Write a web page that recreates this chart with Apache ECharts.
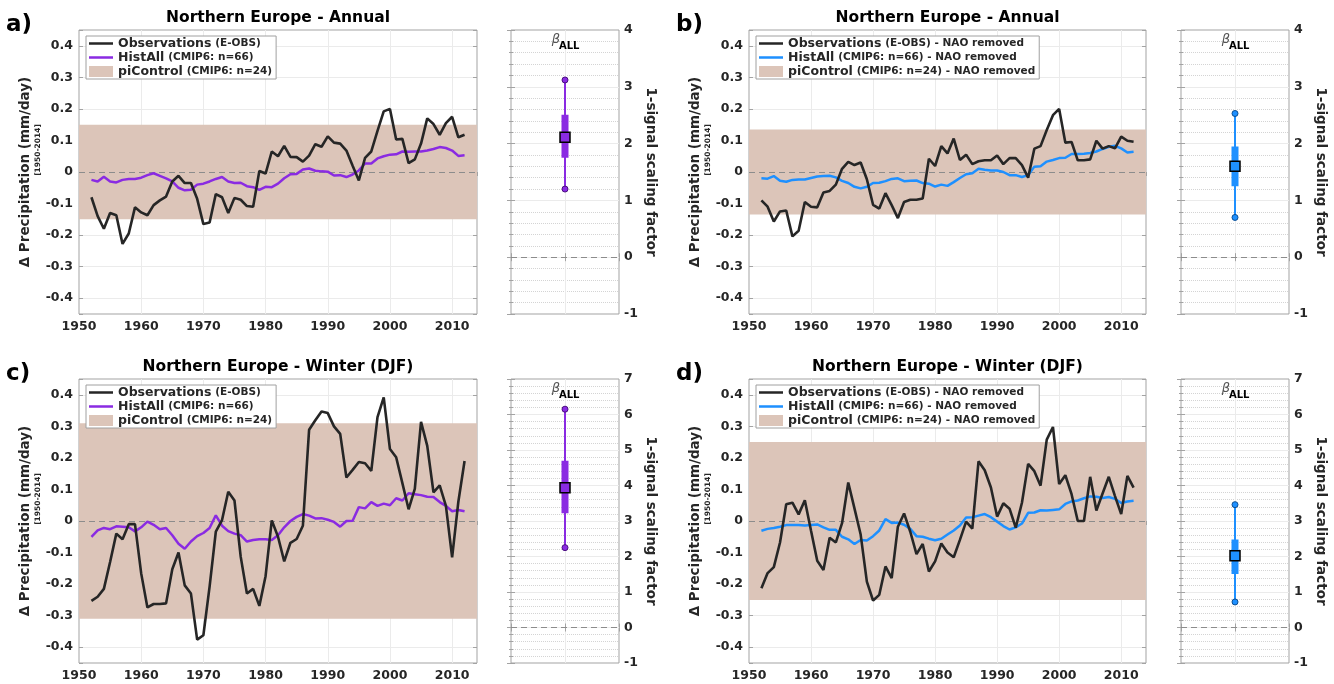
<!DOCTYPE html>
<html><head><meta charset="utf-8">
<script src="https://cdn.jsdelivr.net/npm/echarts@6/dist/echarts.min.js"></script>
<style>html,body{margin:0;padding:0;background:#fff}#c{width:1334px;height:684px}</style>
</head><body><div id="c"></div>
<script>
// ---------------- DATA ----------------
const YEARS = [1952,1953,1954,1955,1956,1957,1958,1959,1960,1961,
  1962,1963,1964,1965,1966,1967,1968,1969,1970,1971,
  1972,1973,1974,1975,1976,1977,1978,1979,1980,1981,
  1982,1983,1984,1985,1986,1987,1988,1989,1990,1991,
  1992,1993,1994,1995,1996,1997,1998,1999,2000,2001,
  2002,2003,2004,2005,2006,2007,2008,2009,2010,2011,2012];

const OBS_A = [-0.080,-0.140,-0.180,-0.130,-0.137,-0.228,-0.195,-0.112,-0.128,-0.137,
  -0.105,-0.090,-0.078,-0.030,-0.012,-0.035,-0.035,-0.085,-0.165,-0.160,
  -0.070,-0.080,-0.130,-0.082,-0.088,-0.108,-0.110,0.003,-0.005,0.065,
  0.050,0.083,0.048,0.047,0.033,0.052,0.088,0.080,0.113,0.093,
  0.090,0.068,0.020,-0.027,0.045,0.065,0.130,0.192,0.200,0.103,
  0.105,0.028,0.040,0.090,0.170,0.152,0.118,0.155,0.175,0.110,0.118];
const HIST_A = [-0.025,-0.030,-0.015,-0.030,-0.033,-0.025,-0.022,-0.022,-0.018,-0.010,
  -0.004,-0.012,-0.020,-0.030,-0.050,-0.058,-0.056,-0.040,-0.037,-0.030,
  -0.022,-0.016,-0.030,-0.035,-0.034,-0.045,-0.048,-0.057,-0.047,-0.048,
  -0.037,-0.020,-0.007,-0.006,0.008,0.011,0.004,0.002,0.001,-0.011,
  -0.010,-0.016,-0.008,0.005,0.027,0.027,0.043,0.050,0.055,0.056,
  0.065,0.064,0.065,0.065,0.068,0.073,0.079,0.076,0.068,0.051,0.053];

const OBS_B = [-0.090,-0.110,-0.157,-0.125,-0.122,-0.204,-0.186,-0.095,-0.110,-0.112,
  -0.065,-0.060,-0.040,0.010,0.032,0.022,0.030,-0.023,-0.104,-0.116,
  -0.067,-0.105,-0.146,-0.095,-0.088,-0.088,-0.084,0.042,0.019,0.082,
  0.059,0.106,0.038,0.055,0.025,0.034,0.037,0.037,0.052,0.025,
  0.044,0.044,0.022,-0.018,0.074,0.082,0.133,0.180,0.200,0.093,
  0.095,0.037,0.037,0.040,0.099,0.074,0.082,0.075,0.112,0.099,0.096];
const HIST_B = [-0.020,-0.021,-0.013,-0.028,-0.031,-0.025,-0.024,-0.024,-0.019,-0.014,
  -0.013,-0.012,-0.017,-0.028,-0.035,-0.047,-0.052,-0.047,-0.035,-0.034,
  -0.029,-0.022,-0.020,-0.029,-0.028,-0.027,-0.035,-0.037,-0.046,-0.040,
  -0.044,-0.032,-0.019,-0.007,-0.004,0.010,0.007,0.005,0.005,0.000,
  -0.010,-0.010,-0.016,-0.010,0.017,0.018,0.033,0.038,0.044,0.045,
  0.057,0.057,0.058,0.060,0.065,0.073,0.080,0.083,0.075,0.062,0.064];

const OBS_C = [-0.253,-0.240,-0.215,-0.130,-0.040,-0.058,-0.010,-0.010,-0.166,-0.274,
  -0.263,-0.263,-0.261,-0.153,-0.100,-0.204,-0.230,-0.376,-0.362,-0.208,
  -0.034,0.003,0.093,0.065,-0.113,-0.230,-0.215,-0.269,-0.175,0.002,
  -0.050,-0.128,-0.069,-0.057,-0.015,0.289,0.319,0.347,0.342,0.300,
  0.276,0.138,0.162,0.187,0.183,0.159,0.329,0.392,0.228,0.202,
  0.120,0.037,0.102,0.314,0.238,0.091,0.113,0.048,-0.115,0.061,0.190];
const HIST_C = [-0.050,-0.030,-0.022,-0.026,-0.017,-0.018,-0.020,-0.033,-0.020,-0.002,
  -0.012,-0.026,-0.022,-0.045,-0.072,-0.088,-0.065,-0.048,-0.038,-0.022,
  0.018,-0.015,-0.032,-0.040,-0.045,-0.065,-0.060,-0.058,-0.058,-0.060,
  -0.045,-0.020,0.000,0.013,0.022,0.017,0.008,0.009,0.004,-0.003,
  -0.018,0.000,0.001,0.044,0.040,0.060,0.048,0.055,0.050,0.072,
  0.065,0.088,0.085,0.082,0.077,0.076,0.060,0.048,0.031,0.035,0.031];

const OBS_D = [-0.213,-0.165,-0.146,-0.068,0.053,0.058,0.021,0.066,-0.031,-0.126,
  -0.155,-0.053,-0.068,-0.007,0.122,0.040,-0.043,-0.192,-0.252,-0.234,
  -0.144,-0.181,-0.018,0.024,-0.034,-0.105,-0.073,-0.160,-0.128,-0.071,
  -0.100,-0.115,-0.060,-0.002,-0.024,0.189,0.161,0.106,0.014,0.056,
  0.039,-0.021,0.058,0.181,0.158,0.112,0.258,0.298,0.117,0.145,
  0.085,0.000,0.000,0.140,0.033,0.087,0.140,0.079,0.022,0.143,0.106];
const HIST_D = [-0.031,-0.025,-0.022,-0.018,-0.013,-0.013,-0.013,-0.014,-0.013,-0.011,
  -0.020,-0.028,-0.028,-0.050,-0.058,-0.073,-0.060,-0.062,-0.048,-0.030,
  0.006,-0.006,-0.005,-0.012,-0.025,-0.048,-0.050,-0.056,-0.061,-0.056,
  -0.043,-0.030,-0.014,0.011,0.012,0.017,0.022,0.012,-0.002,-0.016,
  -0.027,-0.020,-0.008,0.026,0.027,0.034,0.033,0.035,0.037,0.054,
  0.062,0.065,0.072,0.078,0.077,0.073,0.076,0.070,0.057,0.062,0.064];

// piControl band half-width (mm/day) per panel a,b,c,d
const BAND_HALF = [0.15, 0.135, 0.31, 0.25];

// scaling factor (beta_ALL) per panel a,b,c,d
const SF_BEST = [2.11, 1.60, 3.94, 2.02];
const SF_LO90 = [1.20, 0.70, 2.25, 0.72];
const SF_HI90 = [3.12, 2.53, 6.15, 3.46];
const SF_LO66 = [1.75, 1.25, 3.22, 1.51];
const SF_HI66 = [2.51, 1.95, 4.70, 2.48];
const SF_AXIS_MAX = [4, 4, 7, 7];

const TITLES = ['Northern Europe - Annual','Northern Europe - Annual',
  'Northern Europe - Winter (DJF)','Northern Europe - Winter (DJF)'];
const TAGS = ['a)','b)','c)','d)'];
const OBS_NAMES = ['Observations (E-OBS)','Observations (E-OBS) - NAO removed',
  'Observations (E-OBS)','Observations (E-OBS) - NAO removed'];
const HIST_NAMES = ['HistAll (CMIP6: n=66)','HistAll (CMIP6: n=66) - NAO removed',
  'HistAll (CMIP6: n=66)','HistAll (CMIP6: n=66) - NAO removed'];
const PI_NAMES = ['piControl (CMIP6: n=24)','piControl (CMIP6: n=24) - NAO removed',
  'piControl (CMIP6: n=24)','piControl (CMIP6: n=24) - NAO removed'];
const Y_NAME = '\u0394 Precipitation (mm/day)';
const Y_SUB = '[1950-2014]';
const SF_NAME = '1-signal scaling factor';

const OBS = [OBS_A, OBS_B, OBS_C, OBS_D];
const HIST = [HIST_A, HIST_B, HIST_C, HIST_D];

// ---------------- STYLE / LAYOUT ----------------
const FONT = 'DejaVu Sans';
const TXT = '#262626';
const AX = '#a3a3a3';
const GRIDC = '#ebebeb';
const BAND_COLOR = '#dcc5b9';
const OBS_COLOR = '#262626';
const HIST_COLOR = ['#8a2be2', '#1e90ff', '#8a2be2', '#1e90ff'];
const HIST_DARK = ['#4b1080', '#0b4f94', '#4b1080', '#0b4f94'];
// horizontal line icon inside a 24x11 box (thin invisible corners fix the box)
const LINE_ICON = 'path://M0,0H24V0.01H0Z M0,4.25H24V6.75H0Z M0,10.99H24V11H0Z';

const MAIN_POS = [[79,30,398,284],[749,30,397,284],[79,379,398,284],[749,379,397,284]];
const SF_POS = [[511,30,108,284],[1181,30,108,284],[511,379,108,284],[1181,379,108,284]];
const LEG_POS = [[86,36],[756,36],[86,385],[756,385]];

const grids = [], xAxes = [], yAxes = [], series = [], legends = [], graphics = [];

function fmtY(v) {
  const t = v * 10;
  if (Math.abs(t - Math.round(t)) > 1e-6) return '';
  return String(Math.round(t) / 10);
}
const lblStyle = {color: TXT, fontSize: 12.5, fontWeight: 'bold', fontFamily: FONT};
const zeroLine = {silent: true, z: 2, symbol: ['none', 'none'], label: {show: false},
  lineStyle: {type: [6, 4], color: '#8c8c8c', width: 1}, data: [{yAxis: 0}]};

for (let i = 0; i < 4; i++) {
  const [ml, mt, mw, mh] = MAIN_POS[i];
  const [sl, st, sw, sh] = SF_POS[i];
  const gMain = grids.length;
  grids.push({left: ml, top: mt, width: mw, height: mh, show: true,
    borderColor: AX, borderWidth: 1, backgroundColor: '#fff', containLabel: false});
  const gSf = grids.length;
  grids.push({left: sl, top: st, width: sw, height: sh, show: true,
    borderColor: AX, borderWidth: 1, backgroundColor: '#fff', containLabel: false});

  // main axes
  const xMain = xAxes.length;
  xAxes.push({gridIndex: gMain, type: 'value', min: 1950, max: 2014, interval: 10,
    axisLine: {show: false},
    axisTick: {show: true, inside: true, length: 4, lineStyle: {color: AX}},
    axisLabel: Object.assign({margin: 6, showMaxLabel: false,
      formatter: v => (v % 10 === 0 ? String(v) : '')}, lblStyle),
    splitLine: {show: true, showMinLine: false, showMaxLine: false, lineStyle: {color: GRIDC, width: 1}}});
  xAxes.push({gridIndex: gMain, type: 'value', position: 'top', min: 1950, max: 2014, interval: 10,
    axisLine: {show: false}, axisLabel: {show: false}, splitLine: {show: false},
    axisTick: {show: true, inside: true, length: 4, lineStyle: {color: AX}}});
  const yMain = yAxes.length;
  yAxes.push({gridIndex: gMain, type: 'value', min: -0.45, max: 0.45, splitNumber: 9,
    axisLine: {show: false},
    axisTick: {show: true, inside: true, length: 4, lineStyle: {color: AX}},
    axisLabel: Object.assign({margin: 6, formatter: fmtY}, lblStyle),
    splitLine: {show: true, showMinLine: false, showMaxLine: false, lineStyle: {color: GRIDC, width: 1}},
    name: Y_NAME, nameLocation: 'middle', nameGap: 47, nameRotate: 90,
    nameTextStyle: {color: TXT, fontSize: 13.5, fontWeight: 'bold', fontFamily: FONT}});
  yAxes.push({gridIndex: gMain, type: 'value', position: 'right', min: -0.45, max: 0.45, splitNumber: 9,
    axisLine: {show: false}, axisLabel: {show: false}, splitLine: {show: false},
    axisTick: {show: true, inside: true, length: 4, lineStyle: {color: AX}}});

  // scaling-factor axes
  const xSf = xAxes.length;
  xAxes.push({gridIndex: gSf, type: 'value', min: 0, max: 2, interval: 1,
    axisLine: {show: false}, axisLabel: {show: false},
    axisTick: {show: true, inside: true, length: 4, lineStyle: {color: AX}},
    splitLine: {show: true, showMinLine: false, showMaxLine: false, lineStyle: {color: GRIDC, width: 1}}});
  xAxes.push({gridIndex: gSf, type: 'value', position: 'top', min: 0, max: 2, interval: 1,
    axisLine: {show: false}, axisLabel: {show: false}, splitLine: {show: false},
    axisTick: {show: true, inside: true, length: 4, lineStyle: {color: AX}}});
  const ySf = yAxes.length;
  yAxes.push({gridIndex: gSf, type: 'value', position: 'right', min: -1, max: SF_AXIS_MAX[i], interval: 1,
    axisLine: {show: false},
    axisTick: {show: true, inside: true, length: 4, lineStyle: {color: AX}},
    minorTick: {show: true, splitNumber: 5, length: 2, lineStyle: {color: AX}},
    minorSplitLine: {show: true, lineStyle: {color: '#d4d4d4', type: 'dotted', width: 1}},
    axisLabel: Object.assign({margin: 5}, lblStyle),
    splitLine: {show: true, showMinLine: false, showMaxLine: false, lineStyle: {color: GRIDC, width: 1}},
    name: SF_NAME, nameLocation: 'middle', nameGap: 24, nameRotate: -90,
    nameTextStyle: {color: TXT, fontSize: 13.5, fontWeight: 'bold', fontFamily: FONT}});
  yAxes.push({gridIndex: gSf, type: 'value', position: 'left', min: -1, max: SF_AXIS_MAX[i], interval: 1,
    axisLine: {show: false}, axisLabel: {show: false}, splitLine: {show: false},
    axisTick: {show: true, inside: true, length: 4, lineStyle: {color: AX}},
    minorTick: {show: true, splitNumber: 5, length: 2, lineStyle: {color: AX}}});

  // main series
  series.push({type: 'line', name: PI_NAMES[i], xAxisIndex: xMain, yAxisIndex: yMain,
    data: [], color: BAND_COLOR, itemStyle: {color: BAND_COLOR}, symbol: 'none'});
  series.push({type: 'line', name: HIST_NAMES[i], xAxisIndex: xMain, yAxisIndex: yMain,
    data: YEARS.map((y, k) => [y, HIST[i][k]]), symbol: 'none', showSymbol: false,
    color: HIST_COLOR[i], lineStyle: {color: HIST_COLOR[i], width: 2.5}, z: 3,
    markArea: {silent: true, z: 1, itemStyle: {color: BAND_COLOR, opacity: 1},
      data: [[{yAxis: -BAND_HALF[i]}, {yAxis: BAND_HALF[i]}]]},
    markLine: zeroLine});
  series.push({type: 'line', name: OBS_NAMES[i], xAxisIndex: xMain, yAxisIndex: yMain,
    data: YEARS.map((y, k) => [y, OBS[i][k]]), symbol: 'none', showSymbol: false,
    color: OBS_COLOR, lineStyle: {color: OBS_COLOR, width: 2.6}, z: 4});

  // scaling-factor series
  const c = HIST_COLOR[i];
  series.push({type: 'line', name: 'sf90_' + i, xAxisIndex: xSf, yAxisIndex: ySf,
    data: [[1, SF_LO90[i]], [1, SF_HI90[i]]], symbol: 'circle', symbolSize: 6,
    lineStyle: {color: c, width: 2}, itemStyle: {color: c, borderColor: HIST_DARK[i], borderWidth: 1}, z: 3,
    markLine: zeroLine});
  series.push({type: 'line', name: 'sf66_' + i, xAxisIndex: xSf, yAxisIndex: ySf,
    data: [[1, SF_LO66[i]], [1, SF_HI66[i]]], symbol: 'none',
    lineStyle: {color: c, width: 7, cap: 'butt'}, z: 4});
  series.push({type: 'scatter', name: 'sfbest_' + i, xAxisIndex: xSf, yAxisIndex: ySf,
    data: [[1, SF_BEST[i]]], symbol: 'rect', symbolSize: 10,
    itemStyle: {color: c, borderColor: '#000', borderWidth: 1.5, opacity: 1}, z: 5});

  // legend
  legends.push({orient: 'vertical', left: LEG_POS[i][0], top: LEG_POS[i][1],
    itemWidth: 24, itemHeight: 11, itemGap: 1, padding: [1, 4, 1, 3],
    borderColor: '#a0a0a0', borderWidth: 1, backgroundColor: '#fff', selectedMode: false,
    formatter: name => { const k = name.indexOf(' '); return '{a|' + name.slice(0, k) + '} {b|' + name.slice(k + 1) + '}'; },
    textStyle: {color: TXT, fontFamily: FONT,
      rich: {a: {fontSize: 12.5, fontWeight: 'bold', color: TXT, fontFamily: FONT, lineHeight: 15},
             b: {fontSize: 10.5, fontWeight: 'bold', color: TXT, fontFamily: FONT, lineHeight: 15}}},
    data: [{name: OBS_NAMES[i], icon: LINE_ICON}, {name: HIST_NAMES[i], icon: LINE_ICON},
           {name: PI_NAMES[i], icon: 'rect'}]});

  // texts
  graphics.push({type: 'text', x: ml + mw / 2, y: mt - 12, z: 10,
    style: {text: TITLES[i], fill: '#000', fontSize: 15.5, fontWeight: 'bold', fontFamily: FONT,
      align: 'center', verticalAlign: 'middle'}});
  graphics.push({type: 'text', x: ml - 73, y: mt - 5, z: 10,
    style: {text: TAGS[i], fill: '#000', fontSize: 23, fontWeight: 'bold', fontFamily: FONT,
      align: 'left', verticalAlign: 'middle'}});
  graphics.push({type: 'text', x: ml - 41, y: mt + mh / 2 - 22, rotation: Math.PI / 2, z: 10,
    style: {text: Y_SUB, fill: TXT, fontSize: 7.5, fontWeight: 'bold', fontFamily: FONT,
      align: 'center', verticalAlign: 'middle'}});
  graphics.push({type: 'text', x: sl + sw / 2 - 9, y: st + 10, z: 10,
    style: {text: '\u03B2', fill: '#555', fontSize: 13, fontStyle: 'italic', fontFamily: FONT,
      align: 'center', verticalAlign: 'middle'}});
  graphics.push({type: 'text', x: sl + sw / 2 - 6, y: st + 16, z: 10,
    style: {text: 'ALL', fill: '#000', fontSize: 10, fontWeight: 'bold', fontFamily: FONT,
      align: 'left', verticalAlign: 'middle'}});
}

const chart = echarts.init(document.getElementById('c'), null, {renderer: 'canvas'});
chart.setOption({
  animation: false,
  backgroundColor: '#fff',
  grid: grids, xAxis: xAxes, yAxis: yAxes, series: series, legend: legends, graphic: graphics
});
</script></body></html>
